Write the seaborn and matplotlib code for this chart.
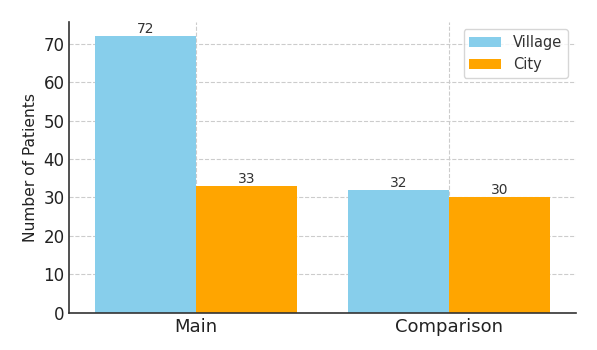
import matplotlib
matplotlib.use("Agg")
import matplotlib.pyplot as plt
import seaborn as sns
import pandas as pd

categories = ["Main", "Comparison"]
groups = ["Village", "City"]
village_values = [72, 32]
city_values = [33, 30]
colors = ["#87CEEB", "#FFA500"]

df = pd.DataFrame({
    "Category": categories * 2,
    "Group": [groups[0]] * len(categories) + [groups[1]] * len(categories),
    "Patients": village_values + city_values,
})

sns.set_style("white")
plt.rcParams["font.family"] = ["DejaVu Sans"]

fig = plt.figure(figsize=(5.97, 3.5), dpi=100)
ax = fig.add_axes([0.116, 0.106, 0.848, 0.831])

sns.barplot(data=df, x="Category", y="Patients", hue="Group",
            palette=colors, order=categories, hue_order=groups,
            ax=ax, linewidth=0, saturation=1, errorbar=None)

for cont in ax.containers:
    ax.bar_label(cont, fontsize=10, color="#333333", padding=0)

ax.set_xlabel("")
ax.set_ylabel("Number of Patients", fontsize=11.2, color="#222222")
ax.tick_params(axis="both", colors="#222222", direction="in", length=3)
ax.tick_params(axis="y", labelsize=12)
ax.tick_params(axis="x", labelsize=13)
ax.grid(True, linestyle="--", color="#cccccc", linewidth=0.8)
ax.set_axisbelow(True)
for s in ["top", "right"]:
    ax.spines[s].set_visible(False)
for s in ["left", "bottom"]:
    ax.spines[s].set_color("#333333")
    ax.spines[s].set_linewidth(1.2)

leg = ax.legend(loc="upper right", fontsize=10.5, frameon=True, fancybox=True,
                handlelength=2.2)
leg.get_frame().set_edgecolor("#cccccc")
for t in leg.get_texts():
    t.set_color("#333333")

fig.savefig("out.png", dpi=100)
